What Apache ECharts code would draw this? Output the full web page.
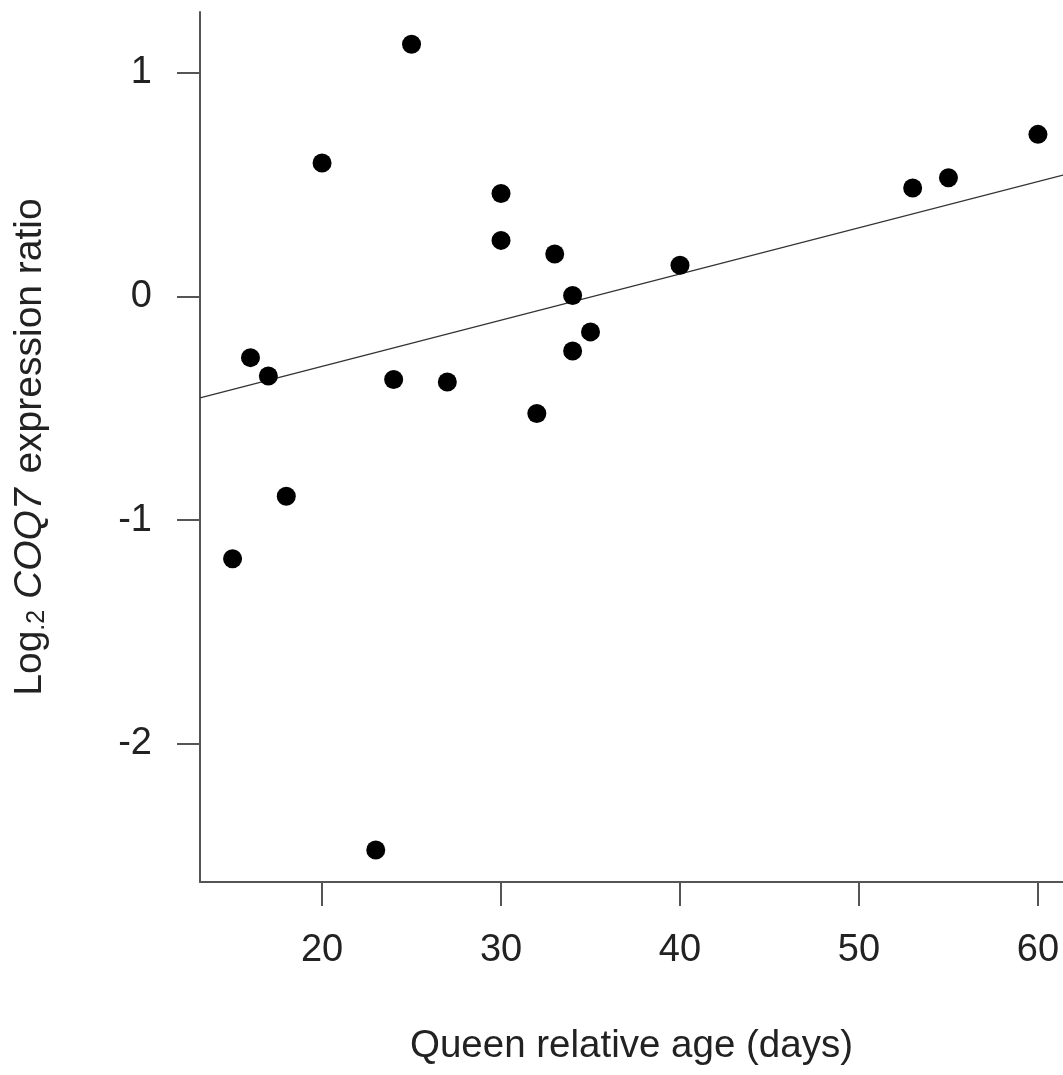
<!DOCTYPE html>
<html>
<head>
<meta charset="utf-8">
<script src="https://cdn.jsdelivr.net/npm/echarts@6/dist/echarts.min.js"></script>
<style>
html,body{margin:0;padding:0;background:#fff;}
#chart{width:1063px;height:1075px;}
</style>
</head>
<body>
<div id="chart"></div>
<script>
// Data
var ageDays = [15, 16, 17, 18, 20, 23, 24, 25, 27, 30, 30, 32, 33, 34, 34, 35, 40, 53, 55, 60];
var log2Ratio = [-1.173, -0.274, -0.356, -0.894, 0.596, -2.475, -0.372, 1.127, -0.383, 0.460, 0.250, -0.524, 0.189, 0.004, -0.244, -0.159, 0.139, 0.484, 0.530, 0.724];
// Fitted regression line end points (across the plot)
var fitX = [13.18, 61.4];
var fitY = [-0.454, 0.542];
var xTicks = [20, 30, 40, 50, 60];
var yTicks = [-2, -1, 0, 1];
var xRange = [13.18, 61.4];
var yRange = [-2.618, 1.271];

var points = ageDays.map(function (x, i) { return [x, log2Ratio[i]]; });
var fitLine = fitX.map(function (x, i) { return [x, fitY[i]]; });

var FONT = '"Liberation Sans", Arial, Helvetica, sans-serif';
var axisColor = '#555';
var chart = echarts.init(document.getElementById('chart'), null, {renderer: 'canvas'});
chart.setOption({
  backgroundColor: '#ffffff',
  animation: false,
  grid: {left: 200, right: 0, top: 12, bottom: 193, containLabel: false},
  xAxis: {
    type: 'value',
    min: xRange[0], max: xRange[1],
    splitLine: {show: false},
    axisLine: {show: true, onZero: false, lineStyle: {color: axisColor, width: 2}},
    axisTick: {show: true, customValues: xTicks, length: 24, lineStyle: {color: axisColor, width: 2}},
    axisLabel: {show: true, customValues: xTicks, margin: 50, fontSize: 38, color: '#222', fontFamily: FONT},
    name: 'Queen relative age (days)',
    nameLocation: 'middle',
    nameGap: 145,
    nameTextStyle: {fontSize: 38.5, color: '#222', fontFamily: FONT}
  },
  yAxis: {
    type: 'value',
    min: yRange[0], max: yRange[1],
    splitLine: {show: false},
    axisLine: {show: true, onZero: false, lineStyle: {color: axisColor, width: 2}},
    axisTick: {show: true, customValues: yTicks, length: 23, lineStyle: {color: axisColor, width: 2}},
    axisLabel: {show: true, customValues: yTicks, margin: 48, fontSize: 38, color: '#222', fontFamily: FONT},
    name: '{n|Log}{s|.2} {i|COQ7} {n|expression ratio}',
    nameLocation: 'middle',
    nameGap: 150,
    nameRotate: 90,
    nameTextStyle: {
      fontSize: 39, color: '#222', fontFamily: FONT,
      rich: {
        n: {fontSize: 39, color: '#222', fontFamily: FONT},
        s: {fontSize: 25, color: '#222', fontFamily: FONT, padding: [14, 0, 0, 0]},
        i: {fontSize: 39, color: '#222', fontFamily: FONT, fontStyle: 'italic', padding: [0, 4, 0, 0]}
      }
    }
  },
  series: [
    {
      type: 'line',
      data: fitLine,
      symbol: 'none',
      silent: true,
      lineStyle: {color: '#333', width: 1.4},
      z: 1
    },
    {
      type: 'scatter',
      data: points,
      symbol: 'circle',
      symbolSize: 19,
      itemStyle: {color: '#000', opacity: 1},
      z: 2
    }
  ]
});
</script>
</body>
</html>
